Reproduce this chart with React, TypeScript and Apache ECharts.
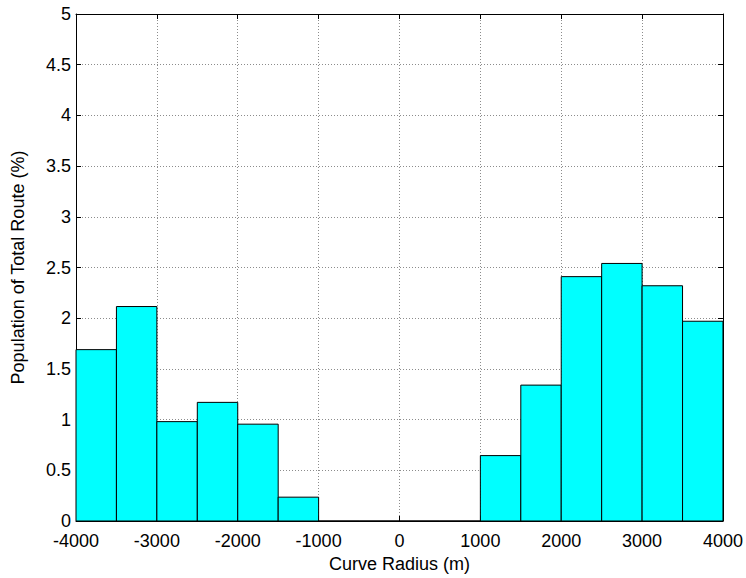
import React, { useEffect, useRef } from "react";
import * as echarts from "echarts";

const binStarts = [-4000, -3500, -3000, -2500, -2000, -1500, -1000, -500, 0, 500, 1000, 1500, 2000, 2500, 3000, 3500];
const binWidth = 500;
const populations = [1.69, 2.115, 0.98, 1.17, 0.955, 0.235, 0, 0, 0, 0, 0.645, 1.34, 2.41, 2.54, 2.32, 1.97];
const xTicks = [-4000, -3000, -2000, -1000, 0, 1000, 2000, 3000, 4000];
const yTicks = [0, 0.5, 1, 1.5, 2, 2.5, 3, 3.5, 4, 4.5, 5];

export default function App() {
  const ref = useRef<HTMLDivElement>(null);
  useEffect(() => {
    if (!ref.current) return;
    const chart = echarts.init(ref.current, null, { renderer: "svg" });
    const data = binStarts.map((s, i) => [s, s + binWidth, populations[i]]);
    const font = "Liberation Sans, Arial, sans-serif";
    const fs = 18;
    const gridLine = { show: true, lineStyle: { color: "#8c8c8c", type: [1, 2] as any, width: 1 } };
    const boxAxis = {
      type: "value" as const,
      axisLine: { show: true, onZero: false, lineStyle: { color: "#000" } },
      axisTick: { show: true, inside: true, length: 5, lineStyle: { color: "#000" } },
      axisLabel: { show: false },
      splitLine: { show: false },
    };
    chart.setOption({
      animation: false,
      backgroundColor: "#ffffff",
      grid: { left: 76, right: 23, top: 14, bottom: 56 },
      xAxis: [
        {
          type: "value",
          min: xTicks[0],
          max: xTicks[xTicks.length - 1],
          interval: 1000,
          name: "Curve Radius (m)",
          nameLocation: "middle",
          nameGap: 34,
          nameTextStyle: { fontFamily: font, fontSize: fs, color: "#000" },
          axisLine: { show: true, onZero: false, lineStyle: { color: "#000" } },
          axisTick: { show: true, inside: true, length: 5, lineStyle: { color: "#000" } },
          axisLabel: { fontFamily: font, fontSize: fs, lineHeight: 14, color: "#000", margin: 13, formatter: (v: number) => String(v) },
          splitLine: gridLine,
        },
        {
          ...boxAxis,
          position: "top",
          min: xTicks[0],
          max: xTicks[xTicks.length - 1],
          interval: 1000,
        },
      ],
      yAxis: [
        {
          type: "value",
          min: yTicks[0],
          max: yTicks[yTicks.length - 1],
          interval: 0.5,
          name: "Population of Total Route (%)",
          nameLocation: "middle",
          nameGap: 49,
          nameTextStyle: { fontFamily: font, fontSize: fs, color: "#000" },
          axisLine: { show: true, onZero: false, lineStyle: { color: "#000" } },
          axisTick: { show: true, inside: true, length: 5, lineStyle: { color: "#000" } },
          axisLabel: { fontFamily: font, fontSize: fs, lineHeight: 14, color: "#000", margin: 5, formatter: (v: number) => String(v) },
          splitLine: gridLine,
        },
        {
          ...boxAxis,
          position: "right",
          min: yTicks[0],
          max: yTicks[yTicks.length - 1],
          interval: 0.5,
        },
      ],
      series: [
        {
          type: "custom",
          xAxisIndex: 0,
          yAxisIndex: 0,
          data,
          renderItem: (params: any, api: any) => {
            const x0 = api.value(0);
            const x1 = api.value(1);
            const h = api.value(2);
            const p0 = api.coord([x0, 0]);
            const p1 = api.coord([x1, h]);
            return {
              type: "rect",
              shape: { x: p0[0], y: p1[1], width: p1[0] - p0[0], height: p0[1] - p1[1] },
              style: { fill: "#00ffff", stroke: "#000", lineWidth: 1 },
            };
          },
          encode: { x: [0, 1], y: 2 },
          z: 3,
        },
      ],
    });
    return () => chart.dispose();
  }, []);
  return <div ref={ref} style={{ width: 746, height: 578, position: "absolute", left: 0, top: 0 }} />;
}
